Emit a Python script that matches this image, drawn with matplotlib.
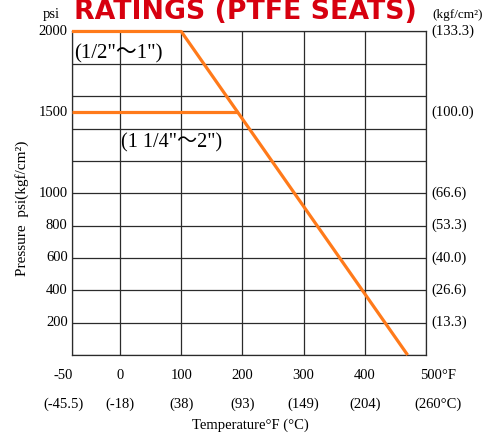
import numpy as np
import matplotlib.pyplot as plt
from matplotlib.transforms import blended_transform_factory

# temperature axis (°F) and matching °C labels
temps_f = [-50, 0, 100, 200, 300, 400, 500]
temps_f_labels = ['-50', '0', '100', '200', '300', '400', '500°F']
temps_c_labels = ['(-45.5)', '(-18)', '(38)', '(93)', '(149)', '(204)', '(260°C)']

# pressure axis (psi) and matching kgf/cm² labels
psi_ticks = [200, 400, 600, 800, 1000, 1500, 2000]
kgf_labels = ['(13.3)', '(26.6)', '(40.0)', '(53.3)', '(66.6)', '(100.0)', '(133.3)']
psi_grid = list(range(0, 2001, 200))

# rating curves
small_temp = [-50, 100, 470]       # (1/2"~1")
small_psi = [2000, 2000, 0]
large_temp = [-50, 192]            # (1 1/4"~2")
large_psi = [1500, 1500]

serif = ['Liberation Serif', 'DejaVu Serif']
size_font = ['Liberation Serif', 'Noto Sans CJK JP']
orange = '#ff7a1a'
gridc = '#2b2b2b'

# the -50..0 span is drawn wider than the rest
k = 1.57
def fwd(x):
    x = np.asarray(x, dtype=float)
    return np.where(x < 0, x * k, x)
def inv(x):
    x = np.asarray(x, dtype=float)
    return np.where(x < 0, x / k, x)

fig = plt.figure(figsize=(4.91, 4.33), dpi=100)
ax = fig.add_axes([0.1466, 0.1801, 0.7210, 0.7472])
ax.set_xscale('function', functions=(fwd, inv))
ax.set_xlim(-50, 500)
ax.set_ylim(0, 2000)

ax.set_xticks(temps_f)
ax.set_yticks(psi_grid)
ax.grid(True, color=gridc, linewidth=0.9)
ax.set_axisbelow(True)
ax.tick_params(length=0, labelbottom=False, labelleft=False)
for s in ax.spines.values():
    s.set_color(gridc)
    s.set_linewidth(0.9)

ax.plot(small_temp, small_psi, color=orange, linewidth=2.3, solid_capstyle='butt', clip_on=False, zorder=5)
ax.plot(large_temp, large_psi, color=orange, linewidth=2.3, solid_capstyle='butt', clip_on=False, zorder=5)

# y labels left and right
ytr = blended_transform_factory(ax.transAxes, ax.transData)
for p, lab in zip(psi_ticks, kgf_labels):
    ax.text(-0.012, p, str(p), transform=ytr, ha='right', va='center', fontsize=10.5, family=serif)
    ax.text(1.015, p, lab, transform=ytr, ha='left', va='center', fontsize=10.5, family=serif)

# x labels in two rows
tr = blended_transform_factory(ax.transData, ax.transAxes)
for t, lf, lc in zip(temps_f, temps_f_labels, temps_c_labels):
    dx = 9 if t == 500 else (-6 if t == -50 else 0)
    ax.annotate(lf, (t, 0), xycoords=tr, xytext=(dx, -15), textcoords='offset points',
                ha='center', va='center', fontsize=10.5, family=serif)
    ax.annotate(lc, (t, 0), xycoords=tr, xytext=(dx, -35.5), textcoords='offset points',
                ha='center', va='center', fontsize=10.5, family=serif)

fig.text(0.104, 0.966, 'psi', ha='center', va='center', fontsize=10.5, family=serif)
fig.text(0.933, 0.966, '(kgf/cm²)', ha='center', va='center', fontsize=9.5, family=serif)
fig.text(0.045, 0.52, 'Pressure  psi(kgf/cm²)', rotation=90, ha='center', va='center',
         fontsize=11, family=serif)
fig.text(0.51, 0.017, 'Temperature°F (°C)', ha='center', va='center', fontsize=10.5, family=serif)

ax.text(-48, 1860, '(1/2"～1")', ha='left', va='center', fontsize=15, family=size_font)
ax.text(2, 1310, '(1 1/4"～2")', ha='left', va='center', fontsize=14.5, family=size_font)

fig.text(0.5, 1 - 19 / 433, 'RATINGS (PTFE SEATS)', ha='center', va='baseline', fontsize=19.3,
         fontweight='bold', color='#d7000f')

fig.savefig('out.png', dpi=100)
